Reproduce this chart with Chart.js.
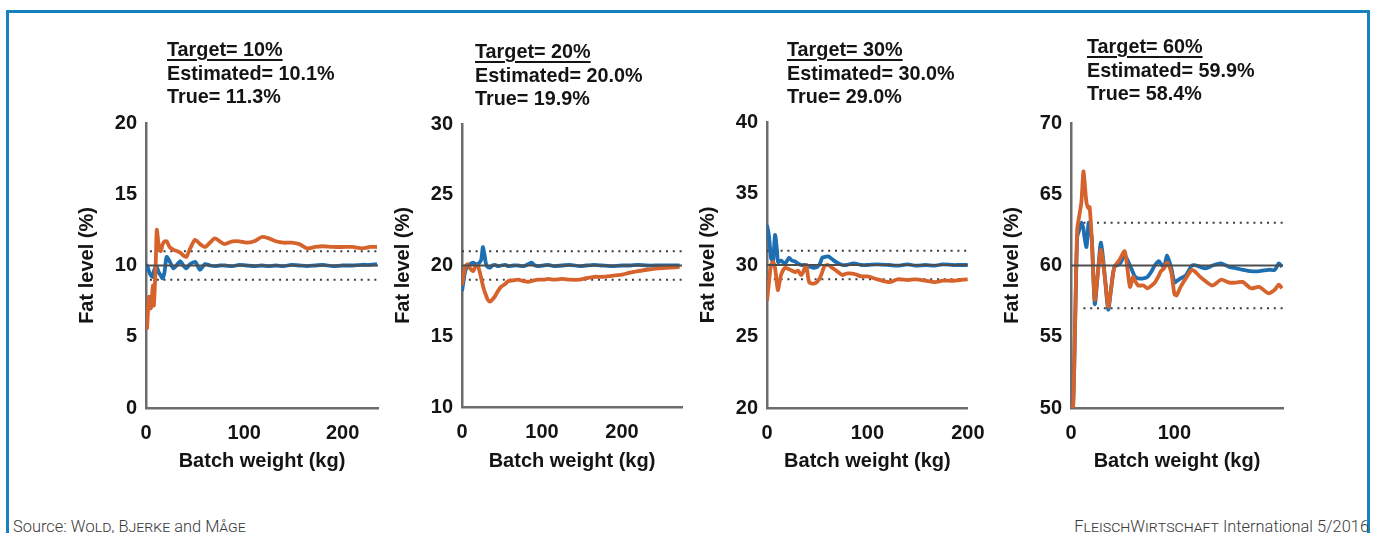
<!DOCTYPE html>
<html>
<head>
<meta charset="utf-8">
<script src="https://cdn.jsdelivr.net/npm/chart.js@4.4.1/dist/chart.umd.min.js"></script>
<style>
  html, body { margin: 0; padding: 0; background: #ffffff; }
  body { width: 1374px; height: 533px; position: relative; overflow: hidden;
         font-family: "Liberation Sans", Arial, sans-serif; }
  #frame { position: absolute; left: 6px; top: 10px; width: 1364px; height: 600px;
           border: 3px solid #1682bd; border-bottom: none; box-sizing: border-box; }
  canvas { position: absolute; top: 0; }
  .head { position: absolute; font-weight: bold; font-size: 19.8px; line-height: 23.5px;
          color: #141414; white-space: pre; }
  .head .t { text-decoration: underline; text-decoration-thickness: 2px; text-underline-offset: 3px; }
  .foot { position: absolute; top: 517px; font-family: Roboto, "Open Sans", sans-serif;
          font-weight: 300; font-size: 16.4px; color: #3a3a3a; white-space: nowrap; }
  .sc { font-variant: small-caps; }
</style>
</head>
<body>
<div id="frame"></div>

<script>
// ---- values ----
const PANEL_TARGET    = [10, 20, 30, 60];
const PANEL_ESTIMATED = [10.1, 20.0, 30.0, 59.9];
const PANEL_TRUE      = [11.3, 19.9, 29.0, 58.4];
const TOLERANCE       = [1, 1, 1, 3];

const Y_MIN   = [0, 10, 20, 50];
const Y_MAX   = [20, 30, 40, 70];
const Y_TICKS = [[0, 5, 10, 15, 20], [10, 15, 20, 25, 30], [20, 25, 30, 35, 40], [50, 55, 60, 65, 70]];
const X_MAX   = [236, 275, 200, 205];
const X_TICKS = [[0, 100, 200], [0, 100, 200], [0, 100, 200], [0, 100]];
const DOT_START = [4, 0, 0, 12];

// Target 10 %
const BATCH_KG_1 = [0, 1, 3, 5, 7, 8, 10, 11, 13, 15, 17, 19, 21, 24, 28, 32, 35, 38, 41, 45, 50, 55, 60, 65, 70,
  75, 80, 88, 95, 102, 110, 118, 125, 132, 140, 148, 156, 164, 172, 180, 190, 200, 210, 220, 228, 235];
const ESTIMATED_1 = [9.6, 10.0, 9.6, 9.3, 9.2, 9.6, 9.9, 9.9, 9.5, 9.3, 9.1, 9.6, 10.6, 10.3, 9.8, 10.1, 10.3, 10.0, 9.8, 10.1, 10.25, 9.7, 10.1, 10.0, 9.95,
  10.0, 10.0, 9.95, 10.05, 10.0, 9.95, 10.0, 9.95, 10.0, 9.95, 10.05, 10.0, 9.95, 10.0, 10.05, 9.95, 10.0, 10.0, 10.05, 10.05, 10.1];
const TRUE_1 = [6.4, 5.6, 7.8, 7.0, 8.6, 7.2, 10.4, 12.5, 11.4, 11.0, 11.5, 11.7, 11.7, 11.3, 11.1, 11.0, 10.9, 10.7, 10.6, 11.2, 11.8, 11.5, 11.3, 11.6, 11.9,
  11.7, 11.5, 11.7, 11.7, 11.6, 11.7, 12.0, 11.9, 11.7, 11.6, 11.6, 11.5, 11.2, 11.3, 11.35, 11.3, 11.3, 11.3, 11.2, 11.3, 11.3];

// Target 20 %
const BATCH_KG_2 = [0, 2, 4, 7, 10, 14, 17, 20, 24, 26, 28, 30, 32, 35, 38, 41, 45, 49, 54, 58, 64, 70, 77, 83, 87,
  90, 95, 102, 108, 115, 125, 135, 147, 155, 165, 175, 185, 200, 210, 220, 231, 245, 260, 272];
const ESTIMATED_2 = [18.2, 18.9, 19.6, 19.95, 20.1, 20.2, 20.1, 20.1, 20.4, 21.3, 20.8, 20.1, 19.9, 19.85, 20.0, 20.05, 19.95, 20.0, 20.05, 19.95, 20.0, 20.0, 19.95, 20.1, 20.2,
  20.05, 19.95, 20.0, 20.05, 19.95, 20.0, 20.05, 19.95, 20.0, 20.05, 20.0, 19.95, 20.0, 20.0, 20.05, 20.0, 20.0, 20.0, 20.0];
const TRUE_2 = [18.6, 19.3, 19.9, 20.1, 19.8, 19.6, 19.95, 19.95, 19.1, 18.6, 18.2, 17.9, 17.6, 17.45, 17.6, 17.8, 18.2, 18.5, 18.7, 18.9, 18.95, 19.0, 18.9, 18.85, 18.9,
  18.95, 19.0, 19.0, 19.05, 19.0, 19.05, 19.0, 19.0, 19.1, 19.2, 19.2, 19.25, 19.35, 19.5, 19.6, 19.7, 19.8, 19.85, 19.9];

// Target 30 %
const BATCH_KG_3 = [0, 2, 4, 6, 8, 10, 11, 14, 18, 22, 25, 28, 31, 34, 36, 39, 42, 47, 52, 55, 57, 61, 65, 69, 75,
  79, 85, 88, 94, 100, 110, 122, 130, 140, 148, 158, 167, 175, 185, 192, 200];
const ESTIMATED_3 = [32.8, 32.0, 30.5, 30.3, 32.1, 31.0, 30.2, 30.3, 30.1, 30.5, 30.3, 30.25, 30.1, 30.0, 30.0, 30.0, 29.9, 29.8, 30.0, 30.5, 30.55, 30.6, 30.4, 30.2, 30.0,
  30.0, 30.1, 30.1, 30.0, 30.0, 30.05, 30.0, 29.95, 30.05, 29.95, 30.0, 29.95, 30.05, 30.0, 30.0, 30.0];
const TRUE_3 = [27.5, 28.8, 30.0, 30.2, 29.8, 28.6, 28.25, 29.3, 29.8, 29.7, 29.6, 29.5, 29.6, 29.3, 29.5, 30.0, 28.8, 28.7, 29.0, 29.5, 29.9, 30.0, 29.8, 29.6, 29.3,
  29.4, 29.4, 29.35, 29.2, 29.2, 29.0, 28.8, 29.0, 28.95, 29.0, 28.9, 28.8, 28.9, 28.9, 28.95, 29.0];

// Target 60 %
const BATCH_KG_4 = [0, 2, 4, 6, 8, 10, 12, 13, 15, 17, 18, 20, 23, 26, 29, 33, 36, 39, 42, 47, 52, 57, 60, 62, 65,
  70, 74, 78, 81, 85, 87, 90, 93, 97, 100, 102, 106, 111, 117, 121, 125, 130, 137, 145, 153, 160, 166, 174, 182, 191, 197, 201, 204];
const ESTIMATED_4 = [50.0, 50.1, 56.0, 62.0, 62.5, 63.0, 62.6, 62.0, 61.3, 63.0, 62.6, 62.0, 57.3, 59.5, 61.6, 59.0, 56.9, 58.5, 59.9, 60.1, 60.7, 60.0, 59.5, 59.2, 59.1,
  59.1, 59.2, 59.6, 60.0, 60.3, 60.1, 59.9, 60.7, 59.8, 58.8, 58.9, 59.1, 59.3, 60.0, 60.0, 59.9, 59.8, 60.0, 60.15, 59.9, 59.8, 59.7, 59.6, 59.6, 59.7, 59.7, 60.15, 59.9];
const TRUE_4 = [50.0, 50.1, 56.0, 62.5, 63.5, 64.4, 66.6, 66.0, 64.4, 64.0, 64.1, 62.0, 57.6, 59.5, 61.1, 59.0, 57.1, 58.5, 59.9, 60.4, 61.0, 58.5, 59.2, 58.9, 58.6,
  58.6, 58.4, 58.6, 58.8, 59.3, 59.6, 59.8, 60.2, 59.5, 58.0, 57.9, 58.5, 59.1, 59.7, 59.5, 59.2, 58.9, 58.6, 59.0, 58.8, 58.8, 58.85, 58.4, 58.5, 58.05, 58.3, 58.65, 58.4];

const BATCH_KG = [BATCH_KG_1, BATCH_KG_2, BATCH_KG_3, BATCH_KG_4];
const ESTIMATED = [ESTIMATED_1, ESTIMATED_2, ESTIMATED_3, ESTIMATED_4];
const TRUE_FAT = [TRUE_1, TRUE_2, TRUE_3, TRUE_4];

// ---- layout (plot area of each panel, page pixels) ----
const PLOT_BOX = [
  { left: 146,  right: 378,  top: 123, bottom: 408 },
  { left: 462,  right: 682,  top: 124, bottom: 407 },
  { left: 767,  right: 978,  top: 122, bottom: 408 },
  { left: 1071, right: 1283, top: 123, bottom: 408 }
];
const HEAD_POS = [
  { left: 167,  top: 38 },
  { left: 475,  top: 40 },
  { left: 787,  top: 38 },
  { left: 1087, top: 35 }
];

const CANVAS_H = 480;
const AXIS_W = 100;      // space left of each plot for tick labels and axis title
const RIGHT_PAD = 20;
const BLUE = 'rgb(30,110,178)';
const ORANGE = 'rgb(214,98,44)';
const INK = '#141414';
const FONT = { family: '"Liberation Sans", Arial, sans-serif', size: 20, weight: 'bold' };

function pts(xs, ys) { return xs.map((x, i) => ({ x: x, y: ys[i] })); }

for (let p = 0; p < 4; p++) {
  const box = PLOT_BOX[p];
  const cv = document.createElement('canvas');
  const w = AXIS_W + (box.right - box.left) + RIGHT_PAD;
  cv.width = w; cv.height = CANVAS_H;
  cv.style.left = (box.left - AXIS_W) + 'px';
  cv.style.width = w + 'px'; cv.style.height = CANVAS_H + 'px';
  document.body.appendChild(cv);

  // header block
  const h = document.createElement('div');
  h.className = 'head';
  h.style.left = HEAD_POS[p].left + 'px';
  h.style.top = HEAD_POS[p].top + 'px';
  h.innerHTML = '<span class="t">Target= ' + PANEL_TARGET[p] + '%</span><br>' +
                'Estimated= ' + PANEL_ESTIMATED[p].toFixed(1) + '%<br>' +
                'True= ' + PANEL_TRUE[p].toFixed(1) + '%';
  document.body.appendChild(h);

  const tgt = PANEL_TARGET[p], tol = TOLERANCE[p], xmax = X_MAX[p];
  const line = (data, color, width) => ({
    data: data, borderColor: color, borderWidth: width, pointRadius: 0,
    tension: 0.25, fill: false
  });

  new Chart(cv, {
    type: 'line',
    data: {
      datasets: [
        { data: [{ x: 0, y: tgt }, { x: xmax, y: tgt }], borderColor: '#4e4e4e', borderWidth: 2.2, pointRadius: 0 },
        line(pts(BATCH_KG[p], TRUE_FAT[p]), ORANGE, 3.8),
        line(pts(BATCH_KG[p], ESTIMATED[p]), BLUE, 3.8),
        { data: [{ x: DOT_START[p], y: tgt + tol }, { x: xmax, y: tgt + tol }], borderColor: '#3c3c3c',
          borderWidth: 2, borderDash: [2, 4.8], pointRadius: 0 },
        { data: [{ x: DOT_START[p], y: tgt - tol }, { x: xmax, y: tgt - tol }], borderColor: '#3c3c3c',
          borderWidth: 2, borderDash: [2, 4.8], pointRadius: 0 }
      ]
    },
    options: {
      responsive: false,
      animation: false,
      devicePixelRatio: 1,
      layout: { padding: { top: box.top, right: RIGHT_PAD, left: 0, bottom: 0 } },
      plugins: { legend: { display: false }, tooltip: { enabled: false }, title: { display: false } },
      scales: {
        x: {
          type: 'linear', min: 0, max: xmax,
          afterBuildTicks: s => { s.ticks = X_TICKS[p].map(v => ({ value: v })); },
          afterFit: s => { s.height = CANVAS_H - box.bottom; },
          grid: { display: false, drawTicks: false, tickLength: 0 },
          border: { display: true, color: '#6c6c6c', width: 2.5 },
          ticks: { color: INK, font: FONT, padding: 13.5, maxRotation: 0 },
          title: { display: true, text: 'Batch weight (kg)', color: INK, font: FONT, padding: { top: 0, bottom: 7 } }
        },
        y: {
          min: Y_MIN[p], max: Y_MAX[p],
          afterBuildTicks: s => { s.ticks = Y_TICKS[p].map(v => ({ value: v })); },
          afterFit: s => { s.width = AXIS_W; },
          grid: { display: false, drawTicks: false, tickLength: 0 },
          border: { display: true, color: '#6c6c6c', width: 2.5 },
          ticks: { color: INK, font: FONT, padding: 9 },
          title: { display: true, text: 'Fat level (%)', color: INK, font: FONT, padding: { top: 29, bottom: 0 } }
        }
      }
    }
  });
}
</script>

<div class="foot" style="left:13px;">Source: <span class="sc">Wold, Bjerke</span> and <span class="sc">Måge</span></div>
<div class="foot" style="right:5px;"><span class="sc">FleischWirtschaft</span> International 5/2016</div>
</body>
</html>
